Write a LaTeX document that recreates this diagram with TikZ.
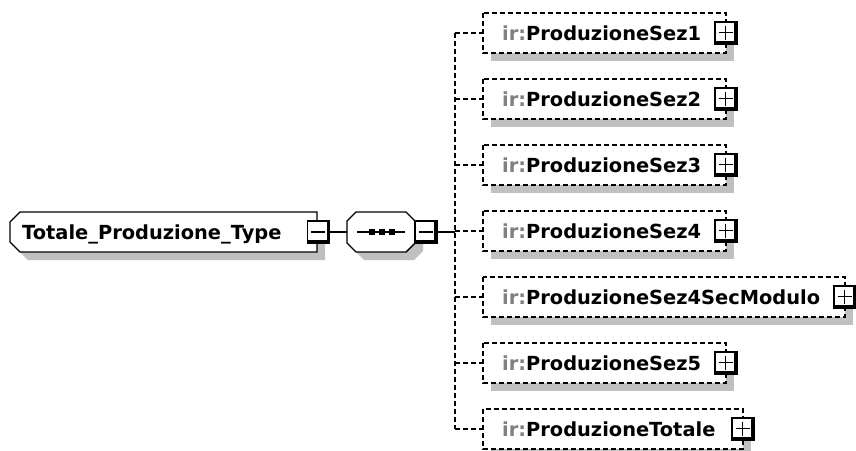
\documentclass[tikz,border=0pt]{standalone}
\usepackage{fontspec}
\setmainfont{DejaVu Sans}
\definecolor{shadowc}{HTML}{C0C0C0}
\definecolor{irgray}{HTML}{808080}
\tikzset{
  lbl/.style={font=\fontsize{19.4}{23}\selectfont\bfseries, inner sep=0pt, anchor=base west},
  dashline/.style={dash pattern=on 5pt off 3pt, line width=1.4pt},
  solidline/.style={line width=1.4pt},
  shadowfill/.style={fill=shadowc},
  thickedge/.style={line width=3pt},
}
\begin{document}
\begin{tikzpicture}[x=1pt,y=-1pt]
\useasboundingbox (0,0) rectangle (856,450);
\fill[white] (0,0) rectangle (856,450);

% ---- main node Totale_Produzione_Type
\fill[shadowfill,shift={(8,8)}] (10,222)--(20,212)--(317,212)--(317,252)--(20,252)--(10,242)--cycle;
\draw[solidline,fill=white] (10,222)--(20,212)--(317,212)--(317,252)--(20,252)--(10,242)--cycle;
\node[lbl] (mainlbl) at (22,239) {Totale\_Produzione\_Type};
% minus box
\coordinate (mminus) at (318.5,232);
\fill[white] (307.5,221) rectangle (329.5,243);
\draw[solidline] (307.5,221) rectangle (329.5,243);
\draw[thickedge] (328,221) -- (328,243);
\draw[thickedge] (307.5,241.5) -- (329.5,241.5);
\draw[solidline] (311,232) -- (325,232);
\coordinate (mout) at (329.5,232);

% ---- sequence compositor
\fill[shadowfill,shift={(8,8)}] (347,221)--(356,212)--(406,212)--(415,221)--(415,243)--(406,252)--(356,252)--(347,243)--cycle;
\draw[solidline,fill=white] (347,221)--(356,212)--(406,212)--(415,221)--(415,243)--(406,252)--(356,252)--(347,243)--cycle;
\coordinate (seqin) at (347,232);
\draw[solidline] (357,232) -- (405,232);
\foreach \dx in {371.5,381.5,391.5}{\fill (\dx-3,229) rectangle (\dx+3,235);}
\fill[white] (415,221) rectangle (437,243);
\draw[solidline] (415,221) rectangle (437,243);
\draw[thickedge] (435.5,221) -- (435.5,243);
\draw[thickedge] (415,241.5) -- (437,241.5);
\draw[solidline] (418.5,232) -- (432.5,232);
\coordinate (seqout) at (437,232);

\draw[solidline] (mout) -- (seqin);

% ---- bus
\coordinate (bus) at (455,232);
\coordinate (bustop) at (455,33);
\coordinate (busbot) at (455,429);
\draw[solidline] (seqout) -- (bus);
\draw[dashline] (bustop) -- (busbot);

% ---- elements
\foreach \i/\y/\r/\n in {1/33/726/ProduzioneSez1,2/99/726/ProduzioneSez2,3/165/726/ProduzioneSez3,4/231/726/ProduzioneSez4,5/297/845/ProduzioneSez4SecModulo,6/363/726/ProduzioneSez5,7/429/743/ProduzioneTotale}{
  \fill[shadowfill] (491,\y-12) rectangle (\r+8,\y+28);
  \fill[white] (483,\y-20) rectangle (\r,\y+20);
  \draw[dashline] (483,\y-20) rectangle (\r,\y+20);
  \coordinate (in\i) at (483,\y);
  \draw[dashline] (455,\y) -- (in\i);
  \node[lbl] (e\i) at (502,\y+7) {\textcolor{irgray}{ir:}\n};
  \fill[white] (\r-11,\y-11) rectangle (\r+11,\y+11);
  \draw[solidline] (\r-11,\y-11) rectangle (\r+11,\y+11);
  \draw[thickedge] (\r+9.5,\y-11) -- (\r+9.5,\y+11);
  \draw[thickedge] (\r-11,\y+9.5) -- (\r+11,\y+9.5);
  \draw[solidline] (\r-7.5,\y-0.5) -- (\r+6.5,\y-0.5);
  \draw[solidline] (\r-0.5,\y-7.5) -- (\r-0.5,\y+6.5);
}
\end{tikzpicture}
\end{document}
